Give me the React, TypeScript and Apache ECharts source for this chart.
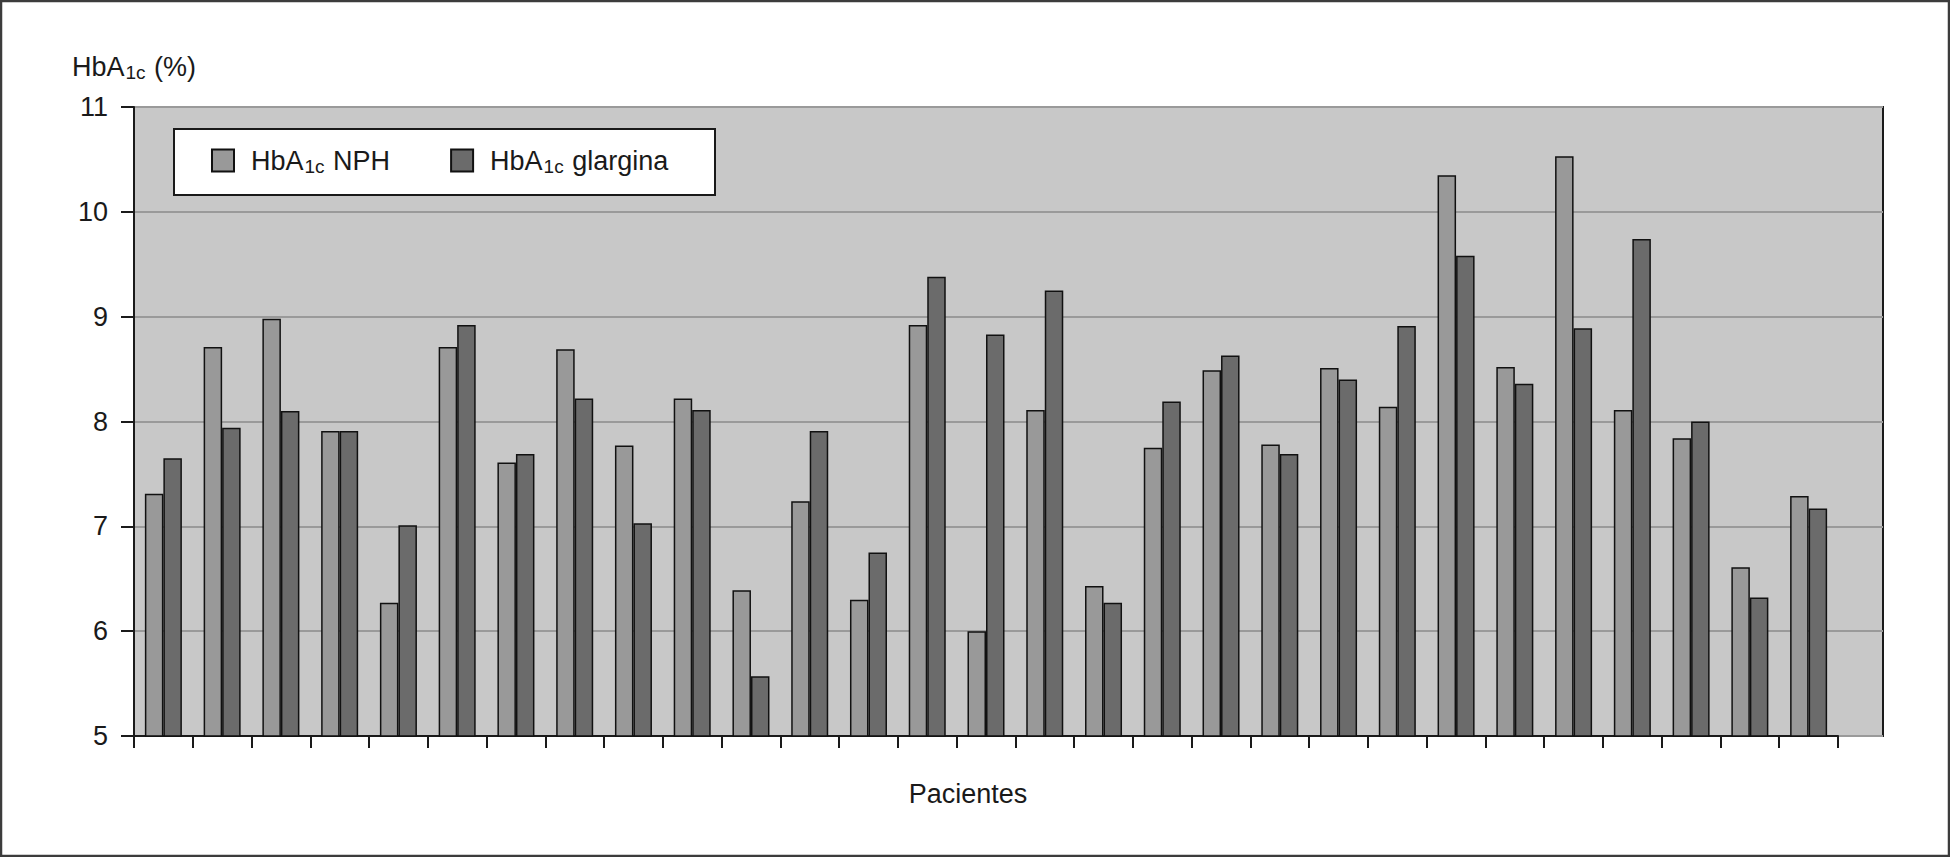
import React, { useEffect, useRef } from "react";
import * as echarts from "echarts";

// Patients (29 pairs of bars)
const patients = [
  "1", "2", "3", "4", "5", "6", "7", "8", "9", "10",
  "11", "12", "13", "14", "15", "16", "17", "18", "19", "20",
  "21", "22", "23", "24", "25", "26", "27", "28", "29",
];

// HbA1c with NPH insulin (%)
const nphValues = [
  7.31, 8.71, 8.98, 7.91, 6.27, 8.71, 7.61, 8.69, 7.77, 8.22,
  6.39, 7.24, 6.3, 8.92, 6.0, 8.11, 6.43, 7.75, 8.49, 7.78,
  8.51, 8.14, 10.35, 8.52, 10.53, 8.11, 7.84, 6.61, 7.29,
];

// HbA1c with glargine insulin (%)
const glarginaValues = [
  7.65, 7.94, 8.1, 7.91, 7.01, 8.92, 7.69, 8.22, 7.03, 8.11,
  5.57, 7.91, 6.75, 9.38, 8.83, 9.25, 6.27, 8.19, 8.63, 7.69,
  8.4, 8.91, 9.58, 8.36, 8.89, 9.74, 8.0, 6.32, 7.17,
];

const seriesNames = ["HbA1c NPH", "HbA1c glargina"];
const yMin = 5;
const yMax = 11;
const yInterval = 1;
const xAxisTitle = "Pacientes";

const FONT = "'Liberation Sans', Arial, Helvetica, sans-serif";
const INK = "#1a1a1a";

export default function App() {
  const ref = useRef<HTMLDivElement>(null);

  useEffect(() => {
    document.body.style.margin = "0";
    if (!ref.current) return;
    const chart = echarts.init(ref.current, undefined, { renderer: "svg" });

    const richMain = { fontSize: 27, fontFamily: FONT, color: INK, lineHeight: 30 };
    const richSub = {
      fontSize: 19,
      fontFamily: FONT,
      color: INK,
      lineHeight: 12,
      verticalAlign: "bottom",
      padding: [0, 1, 0, 1],
    };

    const option: any = {
      animation: false,
      backgroundColor: "#ffffff",
      textStyle: { fontFamily: FONT },
      grid: [
        {
          left: 134,
          right: 67,
          top: 107,
          bottom: 121,
          show: true,
          backgroundColor: "#c8c8c8",
          borderColor: INK,
          borderWidth: 2,
        },
        {
          left: 134,
          right: 112,
          top: 107,
          bottom: 121,
        },
      ],
      xAxis: [
        { gridIndex: 0, type: "value", min: 0, max: 1, show: false },
        {
          gridIndex: 1,
          type: "category",
          data: patients,
          axisLine: { show: true, lineStyle: { color: INK, width: 2 } },
          axisTick: { show: true, length: 12, lineStyle: { color: INK, width: 2 } },
          axisLabel: { show: false },
          splitLine: { show: false },
        },
      ],
      yAxis: [
        {
          gridIndex: 0,
          type: "value",
          min: yMin,
          max: yMax,
          interval: yInterval,
          name: "{a|HbA}{s|1c}{a| (%)}",
          nameLocation: "end",
          nameGap: 25,
          nameTextStyle: {
            rich: { a: richMain, s: richSub },
          },
          axisLine: { show: true, lineStyle: { color: INK, width: 2 } },
          axisTick: { show: true, length: 13, lineStyle: { color: INK, width: 2 } },
          axisLabel: { fontSize: 27, color: INK, margin: 26, fontFamily: FONT },
          splitLine: { show: true, lineStyle: { color: "#9a9a9a", width: 2 } },
        },
        {
          gridIndex: 1,
          type: "value",
          min: yMin,
          max: yMax,
          interval: yInterval,
          show: false,
          splitLine: { show: false },
        },
      ],
      legend: {
        left: 211,
        top: 147,
        padding: 0,
        itemWidth: 22,
        itemHeight: 22,
        itemGap: 60,
        icon: "rect",
        data: seriesNames,
        z: 5,
        formatter: (name: string) =>
          "{p|HbA}{s|1c}{a|" + name.replace("HbA1c", "") + "}",
        textStyle: {
          rich: {
            p: { ...richMain, padding: [0, 0, 0, 12] },
            a: richMain,
            s: richSub,
          },
        },
      },
      graphic: [
        {
          type: "rect",
          z: 3,
          shape: { x: 174, y: 129, width: 541, height: 66 },
          style: { fill: "#ffffff", stroke: INK, lineWidth: 2 },
        },
        {
          type: "text",
          x: 968,
          y: 794,
          style: {
            text: xAxisTitle,
            fontSize: 27,
            fontFamily: FONT,
            fill: INK,
            textAlign: "center",
            textVerticalAlign: "middle",
          },
        },
        {
          type: "rect",
          z: 10,
          silent: true,
          shape: { x: 1, y: 1, width: 1948, height: 855 },
          style: { fill: "none", stroke: "#3c3c3c", lineWidth: 2.5 },
        },
      ],
      series: [
        {
          name: seriesNames[0],
          type: "bar",
          xAxisIndex: 1,
          yAxisIndex: 1,
          data: nphValues,
          barGap: "0%",
          barCategoryGap: "37%",
          itemStyle: { color: "#999999", borderColor: "#111111", borderWidth: 1.5 },
        },
        {
          name: seriesNames[1],
          type: "bar",
          xAxisIndex: 1,
          yAxisIndex: 1,
          data: glarginaValues,
          barGap: "0%",
          barCategoryGap: "37%",
          itemStyle: { color: "#6b6b6b", borderColor: "#111111", borderWidth: 1.5 },
        },
      ],
    };

    chart.setOption(option);
    return () => {
      chart.dispose();
    };
  }, []);

  return (
    <div
      ref={ref}
      style={{ position: "fixed", left: 0, top: 0, width: 1950, height: 857 }}
    />
  );
}
